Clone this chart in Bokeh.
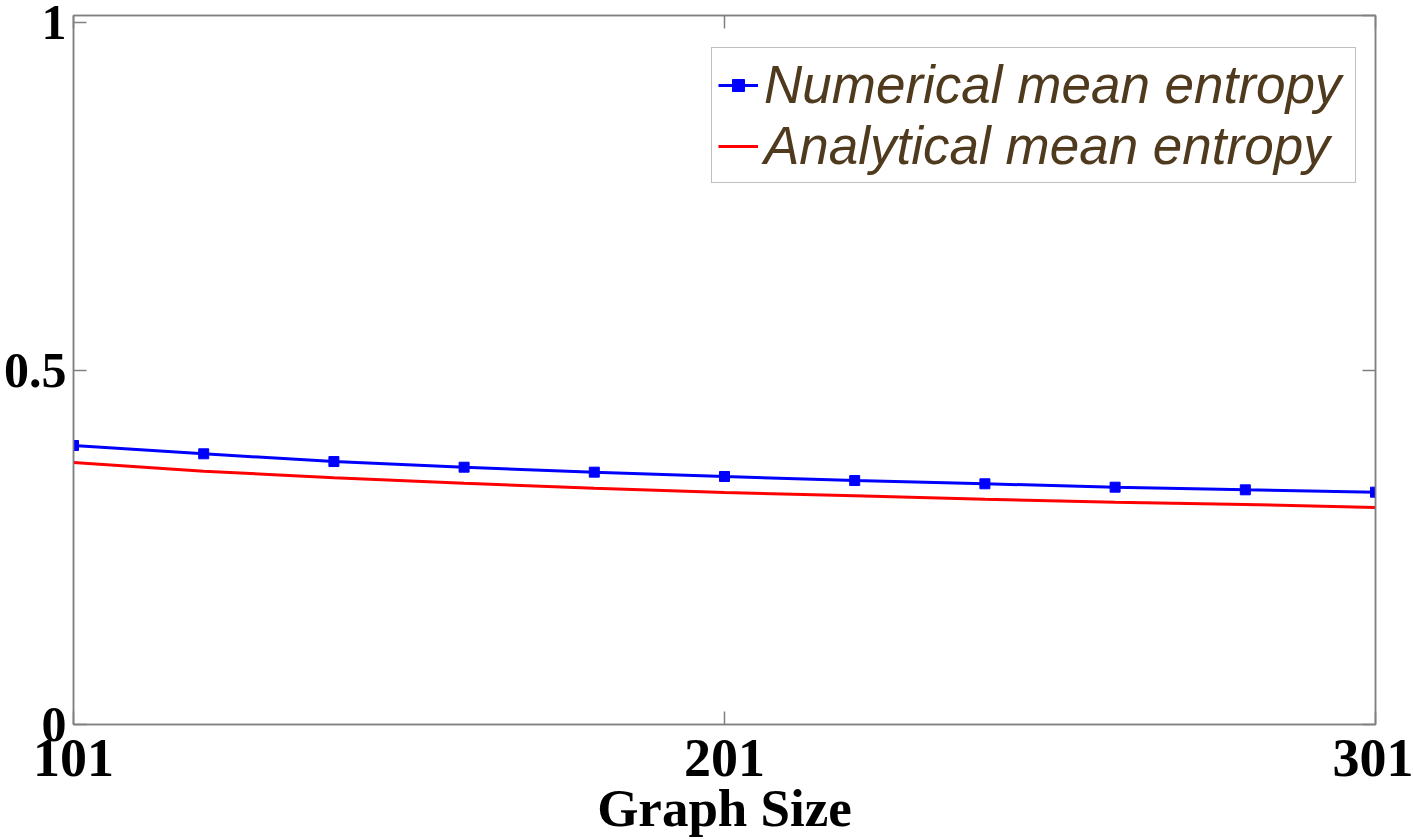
from bokeh.plotting import figure
from bokeh.models import LinearAxis, Legend, LegendItem, Range1d, FixedTicker
from bokeh.embed import file_html
from bokeh.resources import INLINE

graph_size = [101, 121, 141, 161, 181, 201, 221, 241, 261, 281, 301]
numerical_entropy = [0.3935, 0.3818, 0.3709, 0.3629, 0.3559, 0.3498,
                     0.3441, 0.3395, 0.3347, 0.3310, 0.3277]
analytical_entropy = [0.3695, 0.3573, 0.3479, 0.3403, 0.3333, 0.3272,
                      0.3226, 0.3178, 0.3135, 0.3103, 0.3061]
x_ticks = [101, 201, 301]
y_ticks = [0, 0.5, 1]
# the top label "1" is drawn a little below the frame edge, as in the reference
y_label_ticks = [0, 0.5, 0.99]
y_label_texts = {0.99: "1"}
x_label = "Graph Size"
series_names = ["Numerical mean entropy", "Analytical mean entropy"]

GREY = "#808080"
TICK_FONT = "Liberation Serif"

p = figure(width=1413, height=839, output_backend="svg", toolbar_location=None,
           x_range=Range1d(101, 301), y_range=Range1d(0, 1),
           min_border_left=73, min_border_right=38, min_border_top=15,
           min_border_bottom=115)
p.xgrid.visible = False
p.ygrid.visible = False
p.outline_line_color = GREY
p.outline_line_width = 1.5
p.background_fill_color = "white"
p.border_fill_color = "white"

def style_axis(ax, ticks, labels=True):
    ax.ticker = FixedTicker(ticks=ticks)
    ax.axis_line_color = GREY
    ax.axis_line_width = 1.5
    ax.major_tick_line_color = GREY
    ax.major_tick_line_width = 1.5
    ax.major_tick_in = 13
    ax.major_tick_out = 0
    ax.minor_tick_line_color = None
    ax.major_label_text_font = TICK_FONT
    ax.major_label_text_font_style = "bold"
    ax.major_label_text_font_size = "50px"
    ax.major_label_text_color = "black"
    if not labels:
        ax.major_label_overrides = {t: "" for t in ticks}
        ax.major_label_standoff = 0

style_axis(p.xaxis[0], x_ticks)
style_axis(p.yaxis[0], y_label_ticks)
p.xaxis[0].major_label_text_font_size = "54px"
p.xaxis[0].major_label_standoff = 15
p.yaxis[0].major_label_standoff = 7
p.yaxis[0].major_label_overrides = y_label_texts
p.xaxis[0].axis_label = x_label
p.xaxis[0].axis_label_text_font = TICK_FONT
p.xaxis[0].axis_label_text_font_style = "bold"
p.xaxis[0].axis_label_text_font_size = "53px"
p.xaxis[0].axis_label_text_color = "black"
p.xaxis[0].axis_label_standoff = 0

top_ax = LinearAxis()
style_axis(top_ax, x_ticks, labels=False)
p.add_layout(top_ax, "above")
right_ax = LinearAxis()
style_axis(right_ax, y_ticks, labels=False)
p.add_layout(right_ax, "right")

r_num = p.line(graph_size, numerical_entropy, line_color="#0000FF", line_width=3)
r_num_m = p.scatter(graph_size, numerical_entropy, marker="square", size=10,
                    fill_color="#0000FF", line_color="#0000FF")
r_ana = p.line(graph_size, analytical_entropy, line_color="#FF0000", line_width=3)

legend = Legend(items=[LegendItem(label=series_names[0], renderers=[r_num, r_num_m]),
                       LegendItem(label=series_names[1], renderers=[r_ana])],
                location=(638, 541))
legend.label_text_font = "Liberation Sans"
legend.label_text_font_style = "italic"
legend.label_text_font_size = "53px"
legend.label_text_color = "#4F3A1E"
legend.border_line_color = GREY
legend.border_line_width = 1.5
legend.background_fill_color = "white"
legend.background_fill_alpha = 1
legend.glyph_width = 40
legend.glyph_height = 30
legend.label_standoff = 6
legend.label_width = 585
legend.padding = 6
legend.spacing = 0
legend.margin = 0
p.add_layout(legend)

open("out.html", "w").write(file_html(p, INLINE))
